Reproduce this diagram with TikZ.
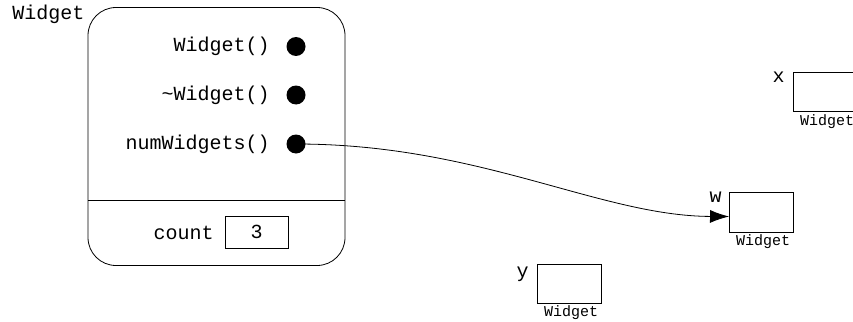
\documentclass[tikz,border=0pt]{standalone}
\usepackage{fontspec}
\newfontfamily\code{Liberation Mono}
\usetikzlibrary{arrows.meta}
\tikzset{
  lbl/.style={font=\code\fontsize{20}{24}\selectfont, inner sep=0pt},
  smalllbl/.style={font=\code\fontsize{15}{18}\selectfont, inner sep=0pt, anchor=base},
  dotnode/.style={circle, fill=black, minimum size=19pt, inner sep=0pt},
  objbox/.style={draw, line width=0.8pt, minimum width=64pt, minimum height=39.5pt, inner sep=0pt, outer sep=0pt},
}
\begin{document}
\begin{tikzpicture}[x=1pt,y=-1pt, line width=0.8pt]
\clip (0,0) rectangle (853,321);
\fill[white] (0,0) rectangle (853,321);
% class box
\node[draw, rounded corners=28pt, minimum width=257pt, minimum height=258pt, inner sep=0pt, outer sep=0pt] (cls) at (216.5,136.5) {};
\draw (cls.west |- 0,200) -- (cls.east |- 0,200);
\node[lbl, anchor=base west] (title) at (12,19.5) {Widget};
% methods
\node[lbl, anchor=base east] (m1) at (270,52) {Widget()};
\node[lbl, anchor=base east] (m2) at (270,100.5) {\textasciitilde Widget()};
\node[lbl, anchor=base east] (m3) at (270,149.5) {numWidgets()};
\node[dotnode] (d1) at (296,46.5) {};
\node[dotnode] (d2) at (296,95) {};
\node[dotnode] (d3) at (296,144) {};
% count
\node[lbl, anchor=base east] (cnt) at (214,239) {count};
\node[draw, lbl, minimum width=63pt, minimum height=32pt] (cbox) at (256.5,232) {3};
% objects
\node[objbox] (xbox) at (825,92) {};
\node[objbox] (wbox) at (761,212.5) {};
\node[objbox] (ybox) at (569,284) {};
\node[lbl, anchor=base east] (xl) at (785,82) {x};
\node[lbl, anchor=base east] (wl) at (722,202) {w};
\node[lbl, anchor=base east] (yl) at (529,277) {y};
\node[smalllbl] (xt) at (827,125) {Widget};
\node[smalllbl] (wt) at (763,245.5) {Widget};
\node[smalllbl] (yt) at (571,316.5) {Widget};
% connector
\draw[-{Latex[length=19pt,width=13pt]}] (d3.center) .. controls (480,144) and (600,216) .. ([yshift=-4pt]wbox.west);
\end{tikzpicture}
\end{document}
